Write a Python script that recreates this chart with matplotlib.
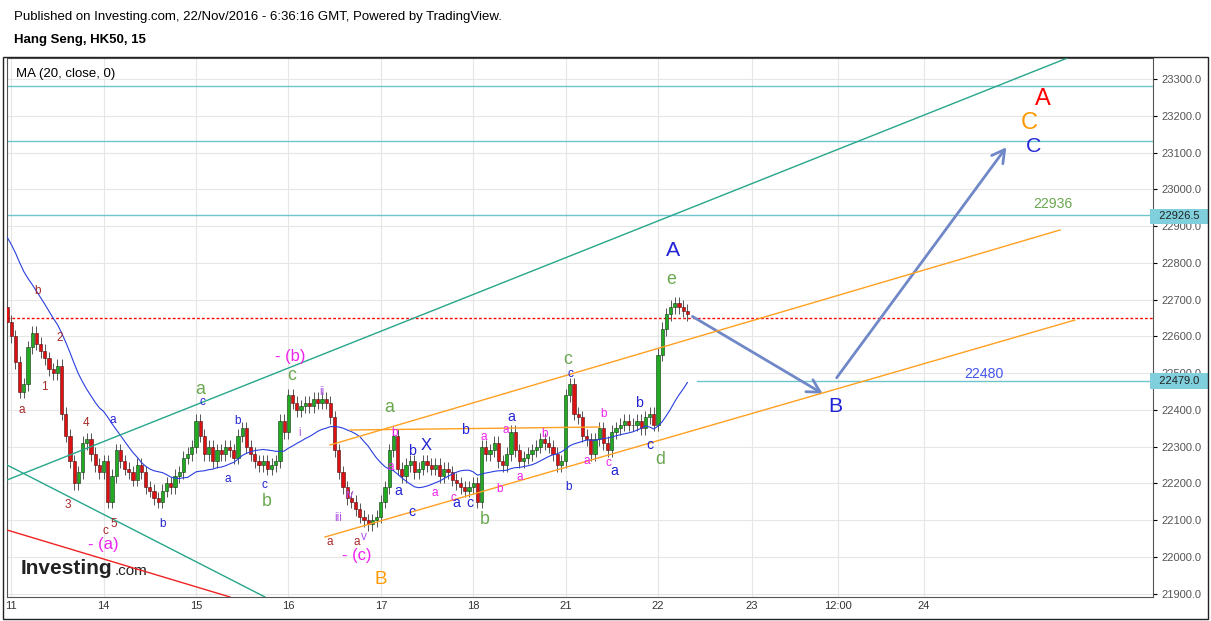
import matplotlib
matplotlib.use("Agg")
import matplotlib.pyplot as plt
import numpy as np
import pandas as pd

plt.rcParams["font.family"] = "Liberation Sans"

# ---- data ----
prior_closes = [23000, 22990, 22980, 22960, 22950, 22940, 22930, 22920, 22900, 22890,
                22880, 22860, 22850, 22840, 22820, 22800, 22780, 22760, 22720]
closes = [22640, 22600, 22530, 22450, 22470, 22570, 22610, 22580, 22560, 22540, 22510, 22500, 22520, 22390, 22330, 22260, 22200, 22230, 22310, 22320, 22280, 22250, 22230,
          22260, 22150, 22220, 22290, 22260, 22240, 22230, 22210, 22250, 22230, 22190, 22180, 22160, 22150, 22180, 22200, 22190, 22220, 22230, 22270, 22280, 22300,
          22370, 22330, 22280, 22300, 22260, 22290, 22280, 22300, 22290, 22270, 22330, 22350, 22300, 22280, 22260, 22250, 22260, 22240, 22250, 22260, 22370, 22340,
          22440, 22420, 22400, 22410, 22420, 22410, 22430, 22420, 22430, 22420, 22380, 22290, 22230, 22190, 22160, 22150, 22130, 22110, 22100, 22090, 22100, 22110,
          22150, 22190, 22290, 22330, 22240, 22220, 22250, 22260, 22230, 22240, 22260, 22250, 22240, 22250, 22220, 22240, 22230, 22210, 22200, 22190, 22180, 22190,
          22200, 22150, 22300, 22280, 22290, 22310, 22260, 22250, 22280, 22340, 22290, 22260, 22270, 22280, 22290, 22300, 22320, 22310, 22300, 22280, 22250, 22260,
          22440, 22470, 22390, 22380, 22330, 22320, 22280, 22320, 22350, 22310, 22290, 22340, 22350, 22360, 22370, 22360, 22360, 22370, 22350, 22380, 22390, 22360,
          22550, 22620, 22660, 22680, 22690, 22680, 22670, 22660]
first_open = 22680
xtick_labels = ["11", "14", "15", "16", "17", "18", "21", "22", "23", "12:00", "24"]
xtick_pos = [1, 23, 45, 67, 89, 111, 133, 155, 177.4, 197.9, 218.3]
hlines_cyan = [23281, 23131, 22930]
level_22480 = 22480
last_line = 22650

W, H = 1211, 621
def px2x(x): return (x - 7) / 4.2
def px2y(y): return 23300 - (y - 79) / 0.3677

fig = plt.figure(figsize=(W/100, H/100), dpi=100)
ax = fig.add_axes([7/W, 1-597/H, (1153-7)/W, (597-58)/H])
ax.set_xlim(0, px2x(1153))
ax.set_ylim(px2y(597), px2y(58))

# grid
for p in range(21900, 23400, 100):
    ax.axhline(p, color="#e6e6e6", lw=0.8, zorder=0)
for t in xtick_pos:
    ax.axvline(t, color="#e6e6e6", lw=0.8, zorder=0)

# candles
c = np.array(closes, float)
o = np.concatenate([[first_open], c[:-1]])
hi = np.maximum(o, c) + 18
lo = np.minimum(o, c) - 18
idx = np.arange(len(c))
up = c >= o
ax.vlines(idx, lo, hi, color="#555555", lw=0.7, zorder=2)
ax.bar(idx[up], (c - o)[up], bottom=o[up], width=0.75, color="#22aa22", edgecolor="#113311", lw=0.4, zorder=3)
ax.bar(idx[~up], (o - c)[~up], bottom=c[~up], width=0.75, color="#dd1111", edgecolor="#441111", lw=0.4, zorder=3)
allc = pd.Series(prior_closes + closes, dtype=float)
ma = allc.rolling(20, min_periods=1).mean().iloc[len(prior_closes):].to_numpy()
ax.plot(idx, ma, color="#2a3fe0", lw=0.8, zorder=4)

# horizontal lines
for p in hlines_cyan:
    ax.axhline(p, color="#6ec6cc", lw=1)
ax.plot([px2x(697), px2x(1153)], [level_22480]*2, color="#6ec6cc", lw=1)
ax.axhline(last_line, color="red", lw=1, ls=(0, (2, 1.5)))

def seg(p1, p2, col):
    ax.plot([px2x(p1[0]), px2x(p2[0])], [px2y(p1[1]), px2y(p2[1])], color=col, lw=1, zorder=5)
seg((7, 480), (1070, 57), "#26a68a")
seg((7, 465), (265, 597), "#26a68a")
seg((7, 530), (230, 597), "#ee2222")
seg((330, 445), (1060, 230), "#ffa022")
seg((325, 537), (1075, 320), "#ffa022")
seg((350, 430), (600, 427), "#ffa022")

def arrow(p1, p2):
    ax.annotate("", xy=(px2x(p2[0]), px2y(p2[1])), xytext=(px2x(p1[0]), px2y(p1[1])),
                arrowprops=dict(arrowstyle="->,head_length=0.9,head_width=0.5", color="#7088c8", lw=2))
arrow((690, 315), (825, 395))
arrow((835, 380), (1008, 145))

DR, BL, GR, MG, VI, OR = "#a52a2a", "#2323d6", "#6aa84f", "#ee22ee", "#b057e8", "#ff9900"
labels = [
    ("b", 38, 291, DR, 10), ("2", 60, 338, DR, 10), ("1", 44, 387, DR, 10), ("a", 22, 410, DR, 10),
    ("4", 86, 423, DR, 10), ("3", 68, 505, DR, 10), ("c", 105, 531, DR, 10), ("5", 114, 524, DR, 10),
    ("a", 330, 542, DR, 10), ("a", 357, 542, DR, 10),
    ("- (a)", 103, 545, MG, 14), ("- (b)", 290, 357, MG, 14), ("- (c)", 357, 556, MG, 14),
    ("a", 435, 493, MG, 10), ("c", 453, 498, MG, 10), ("a", 484, 437, MG, 10), ("b", 604, 414, MG, 10),
    ("c", 608, 463, MG, 10), ("a", 587, 461, MG, 10), ("a", 520, 477, MG, 10), ("b", 545, 434, MG, 10),
    ("a", 391, 467, MG, 10), ("b", 395, 433, MG, 10), ("b", 500, 489, MG, 10), ("a", 506, 430, MG, 10),
    ("a", 200, 389, GR, 15), ("b", 267, 501, GR, 15), ("c", 292, 375, GR, 15), ("a", 389, 408, GR, 15),
    ("b", 485, 520, GR, 15), ("c", 568, 360, GR, 15), ("e", 671, 279, GR, 15), ("d", 660, 460, GR, 15),
    ("a", 113, 420, BL, 10), ("c", 202, 402, BL, 10), ("b", 238, 421, BL, 10), ("a", 228, 479, BL, 10),
    ("c", 264, 485, BL, 10), ("b", 163, 524, BL, 10), ("X", 426, 446, BL, 14), ("b", 412, 451, BL, 12),
    ("a", 398, 491, BL, 12), ("c", 412, 512, BL, 12), ("b", 465, 430, BL, 12), ("a", 456, 503, BL, 12),
    ("c", 470, 503, BL, 12), ("a", 511, 417, BL, 12), ("b", 569, 487, BL, 10), ("c", 570, 374, BL, 10),
    ("b", 639, 403, BL, 12), ("c", 650, 445, BL, 12), ("a", 614, 471, BL, 12),
    ("A", 673, 250, BL, 18), ("B", 835, 407, BL, 18), ("C", 1034, 147, BL, 18),
    ("i", 300, 433, VI, 10), ("ii", 322, 392, VI, 10), ("iii", 338, 518, VI, 10), ("iv", 349, 495, VI, 10),
    ("v", 364, 537, VI, 10),
    ("A", 1043, 99, "#ff0000", 20), ("C", 1029, 123, OR, 20), ("B", 381, 580, OR, 16),
    ("22936", 1053, 204, GR, 12), ("22480", 984, 374, "#4455ee", 12),
]
for t, x, y, col, fs in labels:
    ax.text(px2x(x), px2y(y), t, color=col, fontsize=fs * 0.85, ha="center", va="center", zorder=6)

# axes
ax.set_xticks(xtick_pos)
ax.set_xticklabels(xtick_labels, fontsize=8, color="#333333")
ax.tick_params(axis="x", length=0, pad=3)
ax.yaxis.tick_right()
ax.set_yticks(range(21900, 23400, 100))
ax.set_yticklabels([f"{v:.1f}" for v in range(21900, 23400, 100)], fontsize=8, color="#555555")
ax.tick_params(axis="y", length=3, pad=3)
for s in ax.spines.values():
    s.set_color("#555555")
for val in (22926.5, 22479.0):
    ax.text(1.0, val, f"  {val:.1f}  ", transform=ax.get_yaxis_transform(), fontsize=8, va="center",
            ha="left", color="#222222", bbox=dict(boxstyle="square,pad=0.25", fc="#7fcfdc", ec="none"), zorder=10)

fig.text(14/W, 1-17/H, "Published on Investing.com, 22/Nov/2016 - 6:36:16 GMT, Powered by TradingView.", fontsize=9.5, va="center")
fig.text(14/W, 1-40/H, "Hang Seng, HK50, 15", fontsize=9.5, va="center", weight="bold")
ax.text(0.008, 0.97, "MA (20, close, 0)", transform=ax.transAxes, fontsize=9.5, va="center")
ax.text(0.012, 0.035, "Investing", transform=ax.transAxes, fontsize=15, weight="bold", va="bottom", color="#222222")
ax.text(0.094, 0.035, ".com", transform=ax.transAxes, fontsize=11, va="bottom", color="#222222")
fig.patches.append(plt.Rectangle((3/W, 1-619/H), 1205/W, 562/H, transform=fig.transFigure, fill=False, ec="#222222", lw=1))

fig.savefig("out.png", dpi=100)
